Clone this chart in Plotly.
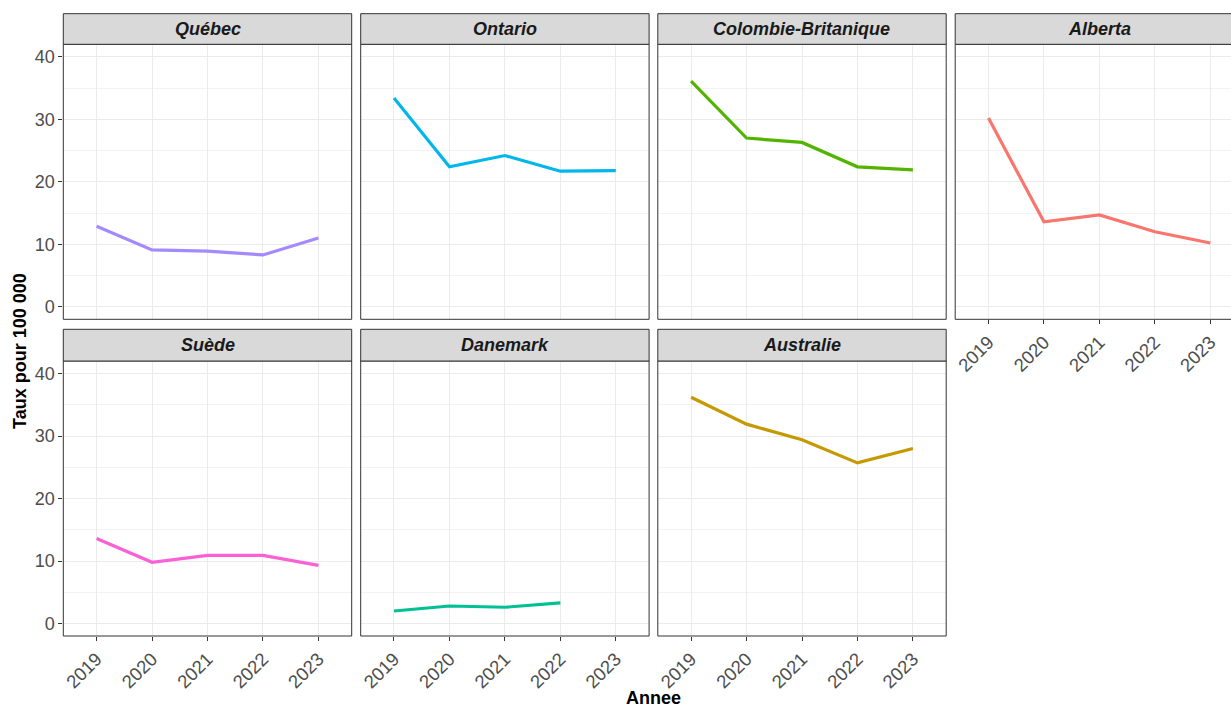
import plotly.graph_objects as go

# data
annees = [2019, 2020, 2021, 2022, 2023]
regions = ["Québec", "Ontario", "Colombie-Britanique", "Alberta", "Suède", "Danemark", "Australie"]
quebec = [12.9, 9.1, 8.9, 8.3, 11.0]
ontario = [33.4, 22.4, 24.2, 21.7, 21.8]
colombie_britanique = [36.1, 27.0, 26.3, 22.4, 21.9]
alberta = [30.2, 13.6, 14.7, 12.0, 10.2]
suede = [13.6, 9.8, 10.9, 10.9, 9.3]
danemark = [2.0, 2.8, 2.6, 3.3, None]
australie = [36.2, 31.9, 29.4, 25.7, 28.0]
y_ticks = [0, 10, 20, 30, 40]
y_minor = [5, 15, 25, 35]

valeurs = [quebec, ontario, colombie_britanique, alberta, suede, danemark, australie]
couleurs = ["#A58AFF", "#00B6EB", "#53B400", "#F8766D", "#FB61D7", "#00C094", "#C49A00"]

# page / panel geometry (pixels)
W, H = 1231, 707
col_left = [63.3, 360.7, 657.8, 955.2]
panel_w = 288.4
strip_top = [13.7, 329.3]
plot_top = [44.3, 361.0]
plot_h = 275.0
x_lo, x_span = 2018.4, 5.2

FONT = "Liberation Sans, Arial, sans-serif"
fig = go.Figure()
shapes, annotations = [], []

for i, (nom, vals, col) in enumerate(zip(regions, valeurs, couleurs)):
    r, c = divmod(i, 4)
    k = "" if i == 0 else str(i + 1)
    left = col_left[c]
    right = left + panel_w
    top = plot_top[r]
    x1 = min(1.0, right / W)
    x_hi = x_lo + x_span * (min(right, W) - left) / panel_w

    fig.add_trace(go.Scatter(
        x=annees, y=vals, mode="lines", name=nom,
        line=dict(color=col, width=3.2), showlegend=False,
        xaxis="x" + k, yaxis="y" + k,
    ))

    show_x = i >= 3
    show_y = c == 0
    fig.update_layout(**{
        "xaxis" + k: dict(
            domain=[left / W, x1], anchor="y" + k, range=[x_lo, x_hi],
            tickvals=annees, ticktext=[str(a) for a in annees],
            showticklabels=show_x, ticks="outside" if show_x else "",
            ticklen=4, tickcolor="#333333", tickangle=-45,
            tickfont=dict(family=FONT, size=18.5, color="#4D4D4D"),
            showgrid=True, gridcolor="#EBEBEB", gridwidth=1,
            zeroline=False, showline=False, fixedrange=True,
        ),
        "yaxis" + k: dict(
            domain=[1 - (top + plot_h) / H, 1 - top / H], anchor="x" + k,
            range=[-2, 42], tickvals=y_ticks,
            showticklabels=show_y, ticks="outside" if show_y else "",
            ticklen=4, tickcolor="#333333",
            tickfont=dict(family=FONT, size=18, color="#4D4D4D"),
            showgrid=True, gridcolor="#EBEBEB", gridwidth=1,
            minor=dict(tickvals=y_minor, showgrid=True, gridcolor="#F3F3F3", gridwidth=1),
            zeroline=False, showline=False, fixedrange=True,
        ),
    })

    # panel border
    shapes.append(dict(type="rect", xref="paper", yref="paper",
                       x0=left / W, x1=right / W,
                       y0=1 - (top + plot_h) / H, y1=1 - top / H,
                       line=dict(color="#333333", width=1), layer="above"))
    # strip
    shapes.append(dict(type="rect", xref="paper", yref="paper",
                       x0=left / W, x1=right / W,
                       y0=1 - top / H, y1=1 - strip_top[r] / H,
                       fillcolor="#D9D9D9", line=dict(color="#333333", width=1)))
    annotations.append(dict(text="<b><i>" + nom + "</i></b>", xref="paper", yref="paper",
                            x=(left + panel_w / 2) / W, y=1 - (strip_top[r] + top) / 2 / H,
                            xanchor="center", yanchor="middle", showarrow=False,
                            font=dict(family=FONT, size=18, color="#1A1A1A")))

annotations.append(dict(text="<b>Annee</b>", xref="paper", yref="paper",
                        x=653 / W, y=1 - 698 / H, xanchor="center", yanchor="middle",
                        showarrow=False, font=dict(family=FONT, size=18, color="black")))
annotations.append(dict(text="<b>Taux pour 100 000</b>", xref="paper", yref="paper",
                        x=20 / W, y=1 - 351 / H, xanchor="center", yanchor="middle",
                        textangle=-90, showarrow=False,
                        font=dict(family=FONT, size=18, color="black")))

fig.update_layout(
    width=W, height=H,
    margin=dict(l=0, r=0, t=0, b=0),
    paper_bgcolor="white", plot_bgcolor="white",
    shapes=shapes, annotations=annotations,
)

fig.write_html("out.html", config={"displayModeBar": False},
               post_script="document.body.style.margin='0';")
